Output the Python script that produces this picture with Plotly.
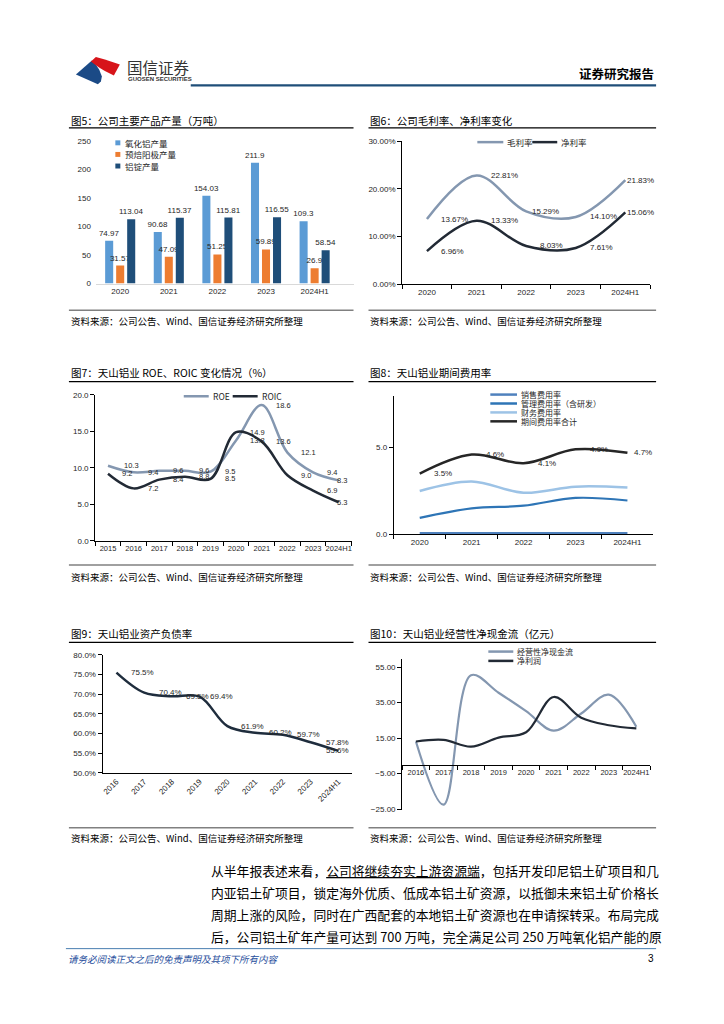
import plotly.graph_objects as go

# page is 724x1024; the browser body adds an 8px margin, so the figure is drawn
# 8px smaller and every page-pixel position is shifted by that margin.
PAGE_OFF = 8
W, H = 724 - PAGE_OFF, 1024 - PAGE_OFF


def fx(px):
    return (px - PAGE_OFF) / W


def fy(py):
    return 1 - (py - PAGE_OFF) / H


# ---------------- data ----------------
years5 = ["2020", "2021", "2022", "2023", "2024H1"]
prod_names = ["氧化铝产量", "预焙阳极产量", "铝锭产量"]
alumina_output = [74.97, 90.68, 154.03, 211.9, 109.3]
anode_output = [31.57, 47.09, 51.25, 59.89, 26.9]
ingot_output = [113.04, 115.37, 115.81, 116.55, 58.54]

margin_names = ["毛利率", "净利率"]
gross_margin = [13.67, 22.81, 15.29, 14.10, 21.83]
net_margin = [6.96, 13.33, 8.03, 7.61, 15.06]

years10 = ["2015", "2016", "2017", "2018", "2019", "2020", "2021", "2022", "2023", "2024H1"]
ret_names = ["ROE", "ROIC"]
roe = [10.3, 9.4, 9.6, 9.6, 9.5, 13.8, 18.6, 12.1, 9.4, 8.3]
roic = [9.2, 7.2, 8.4, 8.8, 8.5, 14.9, 13.6, 9.0, 6.9, 5.3]

exp_names = ["销售费用率", "管理费用率（含研发）", "财务费用率", "期间费用率合计"]
selling_rate = [0.05, 0.05, 0.05, 0.05, 0.05]
admin_rate = [0.95, 1.5, 1.65, 2.1, 1.95]
finance_rate = [2.5, 3.05, 2.4, 2.75, 2.7]
total_rate = [3.5, 4.6, 4.1, 4.9, 4.7]

years9 = ["2016", "2017", "2018", "2019", "2020", "2021", "2022", "2023", "2024H1"]
debt_ratio = [75.5, 70.4, 69.5, 69.4, 61.9, 60.2, 59.7, 57.8, 55.6]

cash_names = ["经营性净现金流", "净利润"]
op_cash = [13.1, -22.5, 50.5, 40.6, 30.2, 19.2, 28.9, 39.5, 21.4]
net_profit = [13.1, 14.0, 10.2, 15.3, 18.3, 38.2, 26.5, 22.3, 20.5]

titles = [
    "图5：公司主要产品产量（万吨）",
    "图6：公司毛利率、净利率变化",
    "图7：天山铝业 ROE、ROIC 变化情况（%）",
    "图8：天山铝业期间费用率",
    "图9：天山铝业资产负债率",
    "图10：天山铝业经营性净现金流（亿元）",
]
source_text = "资料来源：公司公告、Wind、国信证券经济研究所整理"
body_lines = [
    "从半年报表述来看，<u>公司将继续夯实上游资源端</u>，包括开发印尼铝土矿项目和几",
    "内亚铝土矿项目，锁定海外优质、低成本铝土矿资源，以抵御未来铝土矿价格长",
    "周期上涨的风险，同时在广西配套的本地铝土矿资源也在申请探转采。布局完成",
    "后，公司铝土矿年产量可达到 700 万吨，完全满足公司 250 万吨氧化铝产能的原",
]
footer_text = "请务必阅读正文之后的免责声明及其项下所有内容"
page_no = "3"

# ---------------- styles ----------------
CJK = "Noto Sans CJK SC, sans-serif"
NUM = "Liberation Sans, Arial, sans-serif"
TICKF = dict(family=NUM, size=8, color="#262626")
TICKF_S = dict(family=NUM, size=7.5, color="#262626")
LABF = dict(family=NUM, size=8, color="#262626")
LABF_S = dict(family=NUM, size=7.5, color="#262626")
LEGF = dict(family=CJK, size=8.5, color="#262626")
LEGF_S = dict(family=CJK, size=8, color="#262626")

C_GRAY_BLUE = "#8497b0"
C_DARK = "#222a35"

shapes = []
annotations = []
axes = {}


def hline(x0, x1, y, color, width):
    shapes.append(dict(type="line", xref="paper", yref="paper", x0=fx(x0), x1=fx(x1),
                       y0=fy(y), y1=fy(y), line=dict(color=color, width=width)))


def text(x, y, s, font, xanchor="left", yanchor="middle"):
    annotations.append(dict(xref="paper", yref="paper", x=fx(x), y=fy(y), text=s,
                            showarrow=False, xanchor=xanchor, yanchor=yanchor, font=font))


def legend_line(x0, x1, y, color, width, label, font=LEGF):
    hline(x0, x1, y, color, width)
    text(x1 + 2, y, label, font)


def legend_box(x0, y, color, label):
    shapes.append(dict(type="rect", xref="paper", yref="paper", x0=fx(x0), x1=fx(x0 + 5),
                       y0=fy(y + 2.5), y1=fy(y - 2.5), fillcolor=color, line=dict(width=0)))
    text(x0 + 8, y, label, LEGF)


def xa(name, x0, x1, **kw):
    d = dict(domain=[fx(x0), fx(x1)], type="category", showgrid=False, zeroline=False,
             tickfont=TICKF, fixedrange=True, showline=True, linecolor="#000000",
             linewidth=1, ticks="outside", tickson="boundaries", ticklen=4,
             tickcolor="#000000", tickangle=0)
    d.update(kw)
    axes[name] = d


def ya(name, top, bottom, **kw):
    d = dict(domain=[fy(bottom), fy(top)], showgrid=False, zeroline=False, tickfont=TICKF,
             fixedrange=True, showline=True, linecolor="#000000", linewidth=1,
             ticks="outside", ticklen=4, tickcolor="#000000")
    d.update(kw)
    axes[name] = d


def point_labels(xref, yref, values, fmt, xshifts, font=LABF):
    for i, v in enumerate(values):
        annotations.append(dict(x=i, y=v, xref=xref, yref=yref, text=fmt.format(v),
                                showarrow=False, xanchor="left", yanchor="middle",
                                xshift=xshifts[i], font=font))


fig = go.Figure()

# ---------------- header ----------------
red_pts = [(90, 58), (95, 53.5), (104, 56), (119, 61), (113, 72), (104, 67.5), (99, 64.5), (94, 61)]
blue_pts = [(75, 71), (91, 57), (95, 61), (98.5, 66.5), (101, 73), (100, 78), (97, 81)]


def poly(pts):
    return "M " + " L ".join(f"{fx(a):.5f},{fy(b):.5f}" for a, b in pts) + " Z"


shapes.append(dict(type="path", xref="paper", yref="paper", path=poly(blue_pts),
                   fillcolor="#1b4a86", line=dict(width=0)))
shapes.append(dict(type="path", xref="paper", yref="paper", path=poly(red_pts),
                   fillcolor="#d7141a", line=dict(width=0)))
text(124, 63, "国信证券", dict(family=CJK, size=15.5, color="#333333"))
text(125, 76, "<b>GUOSEN SECURITIES</b>", dict(family=NUM, size=6, color="#333333"))
hline(190, 656, 82, "#1f4e79", 2.2)
text(656, 70, "<b>证券研究报告</b>", dict(family=CJK, size=12.5, color="#000000"), xanchor="right")

# ---------------- panel frames ----------------
panels = [(68, 353, 117, 125, 309, 320), (368, 656, 117, 125, 309, 320),
          (68, 353, 372, 381, 566, 578), (368, 656, 372, 381, 566, 578),
          (68, 353, 635, 644, 831, 841), (368, 656, 635, 644, 831, 841)]
TITLEF = dict(family=CJK, size=10.5, color="#000000")
SRCF = dict(family=CJK, size=9.5, color="#000000")
for (x0, x1, ty, ly, by, sy), t in zip(panels, titles):
    text(x0, ty, t, TITLEF)
    hline(x0, x1, ly, "#000000", 1.3)
    hline(x0, x1, by, "#808080", 1.5)
    text(x0, sy, source_text, SRCF)

# ---------------- chart 1: bars ----------------
bar_colors = ["#5b9bd5", "#ed7d31", "#1f4e79"]
for name, vals, col in zip(prod_names, [alumina_output, anode_output, ingot_output], bar_colors):
    fig.add_trace(go.Bar(x=years5, y=vals, name=name, marker=dict(color=col, line=dict(width=0)),
                         text=[f"{v:g}" for v in vals], textposition="outside", textfont=LABF,
                         constraintext="none", cliponaxis=False, xaxis="x", yaxis="y",
                         hoverinfo="skip"))
xa("xaxis", 95, 353, anchor="y", range=[-0.5, 4.8], linecolor="#d9d9d9", ticks="")
ya("yaxis", 138.3, 282, anchor="x", range=[0, 250], dtick=50, tick0=0, showline=False,
   ticks="", ticklabelstandoff=4)
for i, (name, col) in enumerate(zip(prod_names, bar_colors)):
    legend_box(114.5, 140 + i * 11.7, col, name)

# ---------------- chart 2: margins ----------------
for name, vals, col in zip(margin_names, [gross_margin, net_margin], [C_GRAY_BLUE, C_DARK]):
    fig.add_trace(go.Scatter(x=years5, y=vals, name=name, mode="lines",
                             line=dict(color=col, width=2.5, shape="spline", smoothing=1),
                             xaxis="x2", yaxis="y2", hoverinfo="skip"))
xa("xaxis2", 401.7, 650, anchor="y2", range=[-0.5, 4.5])
ya("yaxis2", 138.3, 282.7, anchor="x2", range=[0, 30], dtick=10, tick0=0,
   tickformat=".2f", ticksuffix="%")
point_labels("x2", "y2", gross_margin, "{:.2f}%", [12, 12, 4, 12, 0])
point_labels("x2", "y2", net_margin, "{:.2f}%", [12, 12, 12, 12, 0])
legend_line(477, 503, 139.3, C_GRAY_BLUE, 2.5, margin_names[0])
legend_line(532, 557, 139.3, C_DARK, 2.5, margin_names[1])

# ---------------- chart 3: ROE / ROIC ----------------
for name, vals, col in zip(ret_names, [roe, roic], [C_GRAY_BLUE, C_DARK]):
    fig.add_trace(go.Scatter(x=years10, y=vals, name=name, mode="lines",
                             line=dict(color=col, width=2.5, shape="spline", smoothing=1),
                             xaxis="x3", yaxis="y3", hoverinfo="skip"))
xa("xaxis3", 94.3, 351, anchor="y3", range=[-0.5, 9.5], tickfont=TICKF_S)
ya("yaxis3", 394.3, 541.7, anchor="x3", range=[0, 20], dtick=5, tick0=0, tickformat=".1f")
point_labels("x3", "y3", roe, "{:.1f}", [14, 12, 12, 12, 12, 12, 12, 12, 12, -4], LABF_S)
point_labels("x3", "y3", roic, "{:.1f}", [12, 12, 12, 12, 12, 12, 12, 12, 12, -4], LABF_S)
legend_line(183, 208, 395.7, C_GRAY_BLUE, 2.5, ret_names[0])
legend_line(232, 257, 395.7, C_DARK, 2.5, ret_names[1])

# ---------------- chart 4: expense ratios ----------------
exp_colors = ["#4f81bd", "#2e75b6", "#9dc3e6", "#262626"]
exp_widths = [3, 2.2, 2.5, 2.5]
for name, vals, col, w in zip(exp_names, [selling_rate, admin_rate, finance_rate, total_rate],
                              exp_colors, exp_widths):
    fig.add_trace(go.Scatter(x=years5, y=vals, name=name, mode="lines",
                             line=dict(color=col, width=w, shape="spline", smoothing=1),
                             xaxis="x4", yaxis="y4", hoverinfo="skip", cliponaxis=False))
xa("xaxis4", 393.3, 653.3, anchor="y4", range=[-0.5, 4.5])
ya("yaxis4", 395, 535, anchor="x4", range=[0, 8], tickvals=[0, 5], tickformat=".1f",
   ticksuffix="%")
point_labels("x4", "y4", total_rate, "{:.1f}%", [12, 12, 12, 12, 5])
for i, (name, col) in enumerate(zip(exp_names, exp_colors)):
    legend_line(490, 516.7, 394 + i * 9, col, 2.5, name, LEGF_S)

# ---------------- chart 5: debt ratio ----------------
fig.add_trace(go.Scatter(x=years9, y=debt_ratio, name="资产负债率", mode="lines",
                         line=dict(color="#1f2d3d", width=2.5, shape="spline", smoothing=1),
                         xaxis="x5", yaxis="y5", hoverinfo="skip"))
xa("xaxis5", 101.7, 351.7, anchor="y5", range=[-0.5, 8.5], tickangle=-45, ticks="")
ya("yaxis5", 656.7, 775.7, anchor="x5", range=[50, 80], dtick=5, tick0=50, tickformat=".1f",
   ticksuffix="%")
point_labels("x5", "y5", debt_ratio, "{:.1f}%", [13, 13, 12, 8, 12, 12, 12, 13, -14])

# ---------------- chart 6: cash flow ----------------
for name, vals, col in zip(cash_names, [op_cash, net_profit], [C_GRAY_BLUE, C_DARK]):
    fig.add_trace(go.Scatter(x=years9, y=vals, name=name, mode="lines",
                             line=dict(color=col, width=2.2, shape="spline", smoothing=1),
                             xaxis="x6", yaxis="y6", hoverinfo="skip"))
c6_top, c6_bot = 661, 813.3
c6_min, c6_max = -25.6, 59.5
zero_py = c6_top + (c6_max - 0) / (c6_max - c6_min) * (c6_bot - c6_top)
xa("xaxis6", 401.7, 650, anchor="free", position=fy(zero_py), range=[-0.5, 8.5],
   tickfont=TICKF_S)
ya("yaxis6", c6_top, c6_bot, anchor="x6", range=[c6_min, c6_max],
   tickvals=[-25, -5, 15, 35, 55], tickformat=".2f")
for i, (name, col) in enumerate(zip(cash_names, [C_GRAY_BLUE, C_DARK])):
    legend_line(488, 513, 653.3 + i * 9.4, col, 2.5, name, LEGF_S)

# ---------------- body text & footer ----------------
BODYF = dict(family=CJK, size=12.8, color="#000000")
for i, line in enumerate(body_lines):
    text(208, 874 + i * 22.3, line, BODYF)
hline(65, 656, 953, "#4a7eb0", 1)
text(65, 963, "<i>" + footer_text + "</i>", dict(family=CJK, size=9.5, color="#1f4e9c"))
text(656, 963, page_no, dict(family=NUM, size=10, color="#000000"), xanchor="right")

fig.update_layout(
    width=W, height=H, margin=dict(l=0, r=0, t=0, b=0),
    paper_bgcolor="white", plot_bgcolor="white", showlegend=False,
    barmode="group", bargap=0.32, bargroupgap=0.27,
    font=dict(family=CJK, size=9, color="#262626"),
    shapes=shapes, annotations=annotations, **axes,
)

fig.write_html("out.html")
